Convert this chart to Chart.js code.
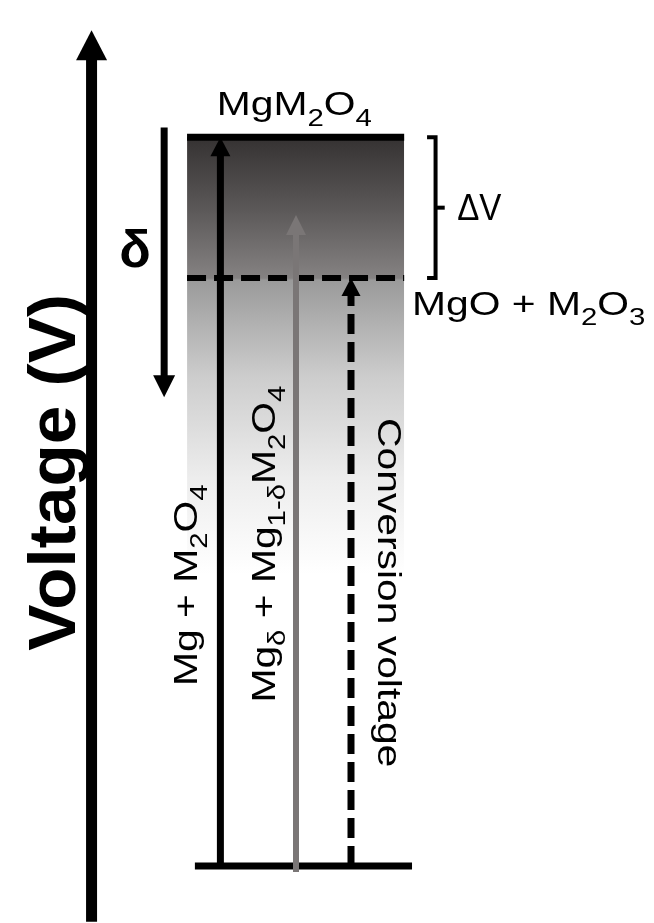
<!DOCTYPE html>
<html>
<head>
<meta charset="utf-8">
<title>Voltage diagram</title>
<script src="https://cdn.jsdelivr.net/npm/chart.js@4.4.1/dist/chart.umd.min.js"></script>
<style>
  html, body { margin: 0; padding: 0; background: #fff; }
  #wrap { width: 654px; height: 923px; }
</style>
</head>
<body>
<div id="wrap"><canvas id="chart"></canvas></div>
<script>
"use strict"

// Níveis de voltagem (unidades arbitrárias, base = 0)
const levelNames = ["MgM_2O_4", "MgO + M_2O_3"];
const levelValues = [3.0, 2.42];
const baseLevel = 0;

// Setas de reação: nome, voltagem de partida e de chegada
const arrowNames = ["Mg + M_2O_4", "Mg_δ + Mg_{1-δ}M_2O_4", "Conversion voltage"];
const arrowStart = [0, -0.025, 0];
const arrowEnd = [3.0, 2.68, 2.42];

// Seta do δ, eixo de voltagem e fim do degradê
const deltaRange = [3.04, 1.93];
const axisRange = [-0.23, 3.44];
const fadeTo = 1.2;

// Colunas no eixo x (layout, unidades de 0 a 100)
const col = { axis: 14.0, delta: 25.1, boxL: 28.6, boxR: 61.8, baseL: 29.8, baseR: 63.0,
              a1: 33.7, a2: 45.26, a3: 53.67, brL: 65.3, br: 66.6, brR: 68.0 };

// Degradê da caixa, calculado a partir da escala y
function boxGradient(context) {
  const chart = context.chart;
  const { ctx, chartArea, scales } = chart;
  if (!chartArea) return "rgba(0,0,0,0)";
  const y0 = scales.y.getPixelForValue(levelValues[0]);
  const y1 = scales.y.getPixelForValue(fadeTo);
  const yc = scales.y.getPixelForValue(levelValues[1]);
  const f = (yc - y0) / (y1 - y0);
  const g = ctx.createLinearGradient(0, y0, 0, y1);
  g.addColorStop(0, "#353232");
  g.addColorStop(f * 0.5, "#5a5757");
  g.addColorStop(f, "#858282");
  g.addColorStop(f + 0.005, "#9a9a9a");
  g.addColorStop(0.55, "#cdcdcd");
  g.addColorStop(0.78, "#ededed");
  g.addColorStop(1, "#ffffff");
  return g;
}

const vline = (x, a, b) => [{ x: x, y: a }, { x: x, y: b }];
const hline = (a, b, y) => [{ x: a, y: y }, { x: b, y: y }];
const midLevel = (levelValues[0] + levelValues[1]) / 2;

const datasets = [
  { data: vline(col.axis, axisRange[0], axisRange[1]), borderColor: "#000", borderWidth: 11, head: { len: 30, w: 31 } },
  { data: vline(col.delta, deltaRange[0], deltaRange[1]), borderColor: "#000", borderWidth: 7, head: { len: 22, w: 22 } },
  { data: vline(col.a2, arrowStart[1], arrowEnd[1]), borderColor: "#7a7676", borderWidth: 6, head: { len: 20, w: 20 } },
  { data: vline(col.a1, arrowStart[0], arrowEnd[0]), borderColor: "#000", borderWidth: 7, head: { len: 19, w: 20 } },
  { data: vline(col.a3, arrowStart[2], arrowEnd[2]), borderColor: "#000", borderWidth: 7, borderDash: [20, 8], head: { len: 18, w: 19 } },
  { data: hline(col.baseL, col.baseR, baseLevel), borderColor: "#000", borderWidth: 7 },
  { data: hline(col.boxL, col.boxR, levelValues[1]), borderColor: "#000", borderWidth: 6, borderDash: [19, 8] },
  // colchete do ΔV
  { data: [{ x: col.brL, y: levelValues[0] }, { x: col.br, y: levelValues[0] },
           { x: col.br, y: levelValues[1] }, { x: col.brL, y: levelValues[1] }], borderColor: "#000", borderWidth: 4 },
  { data: hline(col.br, col.brR, midLevel), borderColor: "#000", borderWidth: 4 },
  // linha do MgM2O4 com o degradê abaixo
  { data: hline(col.boxL, col.boxR, levelValues[0]), borderColor: "#000", borderWidth: 7,
    fill: { value: fadeTo }, backgroundColor: boxGradient }
];

// Texto com subscritos: "_x" ou "_{...}"
function parseRich(str) {
  const parts = [];
  const re = /_\{([^}]*)\}|_(.)|([^_]+)/g;
  let m;
  while ((m = re.exec(str))) {
    if (m[3]) parts.push({ t: m[3], sub: false });
    else parts.push({ t: m[1] || m[2], sub: true });
  }
  return parts;
}

function drawRich(ctx, str, px, py, o) {
  const parts = parseRich(str);
  const font = s => `${o.bold ? "bold " : ""}${s}px "Liberation Sans", Arial, sans-serif`;
  const sub = o.size * 0.72;
  ctx.save();
  ctx.translate(px, py);
  ctx.rotate(o.rot || 0);
  ctx.scale(o.stretch || 1, 1);
  ctx.fillStyle = "#000";
  ctx.textBaseline = "alphabetic";
  ctx.textAlign = "left";
  let w = 0;
  parts.forEach(p => { ctx.font = font(p.sub ? sub : o.size); p.w = ctx.measureText(p.t).width; w += p.w; });
  let cx = o.align === "left" ? 0 : -w / 2;
  parts.forEach(p => {
    ctx.font = font(p.sub ? sub : o.size);
    ctx.fillText(p.t, cx, p.sub ? o.size * 0.3 : 0);
    cx += p.w;
  });
  ctx.restore();
}

const textItems = [
  { str: levelNames[0], x: 45.0, y: 3.09, size: 34, stretch: 1.2 },
  { str: levelNames[1], x: 63.0, y: 2.267, size: 34, stretch: 1.2, align: "left" },
  { str: "ΔV", x: 69.9, y: 2.658, size: 36, stretch: 0.92, align: "left" },
  { str: "δ", x: 20.64, y: 2.465, size: 52, bold: true },
  { str: "Voltage (V)", x: 11.4, y: 1.62, size: 66, bold: true, stretch: 1.05, rot: -Math.PI / 2 },
  { str: arrowNames[0], x: 30.1, y: 1.156, size: 34, stretch: 1.2, rot: -Math.PI / 2 },
  { str: arrowNames[1], x: 42.05, y: 1.325, size: 34, stretch: 1.2, rot: -Math.PI / 2 },
  { str: arrowNames[2], x: 57.8, y: 1.125, size: 34, stretch: 1.2, rot: Math.PI / 2 }
];

// Pontas de seta: encurta a linha e desenha o triângulo na ponta
const tips = new Map();
const arrowPlugin = {
  id: "arrowHeads",
  afterDatasetsUpdate(chart) {
    tips.clear();
    chart.data.datasets.forEach((ds, i) => {
      if (!ds.head) return;
      const pts = chart.getDatasetMeta(i).data;
      const a = pts[pts.length - 2], b = pts[pts.length - 1];
      const dx = b.x - a.x, dy = b.y - a.y, d = Math.hypot(dx, dy);
      const ux = dx / d, uy = dy / d;
      tips.set(i, { x: b.x, y: b.y, ux: ux, uy: uy });
      b.x -= ux * ds.head.len * 0.6;
      b.y -= uy * ds.head.len * 0.6;
    });
  },
  afterDatasetsDraw(chart) {
    const ctx = chart.ctx;
    tips.forEach((t, i) => {
      const ds = chart.data.datasets[i];
      const { len, w } = ds.head;
      const bx = t.x - t.ux * len, by = t.y - t.uy * len;
      const nx = -t.uy, ny = t.ux;
      ctx.save();
      ctx.fillStyle = ds.borderColor;
      ctx.beginPath();
      ctx.moveTo(t.x, t.y);
      ctx.lineTo(bx + nx * w / 2, by + ny * w / 2);
      ctx.lineTo(bx - nx * w / 2, by - ny * w / 2);
      ctx.closePath();
      ctx.fill();
      ctx.restore();
    });
  },
  afterDraw(chart) {
    const { x, y } = chart.scales;
    textItems.forEach(it => drawRich(chart.ctx, it.str, x.getPixelForValue(it.x), y.getPixelForValue(it.y), it));
  }
};

new Chart(document.getElementById("chart"), {
  type: "line",
  data: { datasets: datasets },
  options: {
    responsive: true,
    maintainAspectRatio: false,
    animation: false,
    events: [],
    layout: { padding: 0, autoPadding: false },
    elements: {
      point: { radius: 0 },
      line: { tension: 0, borderCapStyle: "butt", borderJoinStyle: "miter", fill: false }
    },
    plugins: { legend: { display: false }, tooltip: { enabled: false } },
    scales: {
      x: { type: "linear", min: 0, max: 100, display: false },
      y: { type: "linear", min: -0.235, max: 3.565, display: false }
    }
  },
  plugins: [arrowPlugin]
});
</script>
</body>
</html>
